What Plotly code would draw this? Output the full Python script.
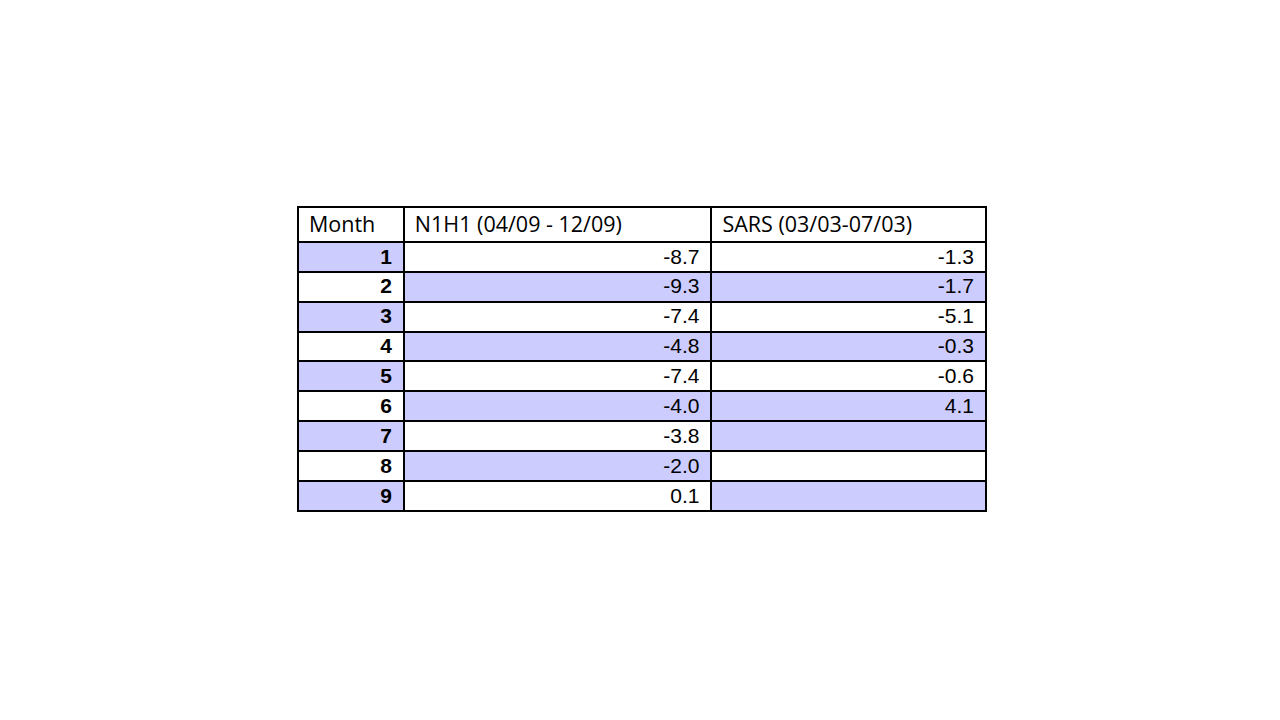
import plotly.graph_objects as go

header = ["Month", "N1H1 (04/09 - 12/09)", "SARS (03/03-07/03)"]
months = [1, 2, 3, 4, 5, 6, 7, 8, 9]
n1h1 = [-8.7, -9.3, -7.4, -4.8, -7.4, -4.0, -3.8, -2.0, 0.1]
sars = [-1.3, -1.7, -5.1, -0.3, -0.6, 4.1, None, None, None]

# shading of the sheet, 1 = purple, 0 = white
shade_month = [1, 0, 1, 0, 1, 0, 1, 0, 1]
shade_n1h1 = [0, 1, 0, 1, 0, 1, 0, 1, 0]
shade_sars = [0, 1, 0, 1, 0, 1, 1, 0, 1]

purple = "#CCCCFF"
col_w = [106, 308, 275]
head_h = 35
row_h = 30

x_edges = [0]
for w in col_w:
    x_edges.append(x_edges[-1] + w)
y_edges = [0, head_h]
for m in months:
    y_edges.append(y_edges[-1] + row_h)

z = [[0, 0, 0]]
for i in range(len(months)):
    z.append([shade_month[i], shade_n1h1[i], shade_sars[i]])

fig = go.Figure()
fig.add_trace(go.Heatmap(
    x=x_edges, y=y_edges, z=z,
    colorscale=[[0, "white"], [1, purple]], zmin=0, zmax=1,
    showscale=False, xgap=2, ygap=2, hoverinfo="skip",
))

head_y = head_h / 2 + 2.5
row_y = [head_h + row_h * (i + 0.5) + 1.5 for i in range(len(months))]

# header text, left aligned
fig.add_trace(go.Scatter(
    x=[x + 11 for x in x_edges[:-1]], y=[head_y] * 3, text=header,
    mode="text", textposition="middle right", hoverinfo="skip",
    textfont=dict(family="Open Sans", size=21.5, color="black"),
))

cols = [
    ["<b>%d</b>" % m for m in months],
    ["%.1f" % v for v in n1h1],
    ["" if v is None else "%.1f" % v for v in sars],
]
for j, txt in enumerate(cols):
    fig.add_trace(go.Scatter(
        x=[x_edges[j + 1] - 12] * len(txt), y=row_y, text=txt,
        mode="text", textposition="middle left", hoverinfo="skip",
        textfont=dict(family="Liberation Sans", size=21, color="black"),
    ))

ax = dict(showgrid=False, zeroline=False, showticklabels=False, ticks="",
          showline=True, mirror=True, linecolor="black", linewidth=1)
fig.update_xaxes(range=[0, x_edges[-1]], **ax)
fig.update_yaxes(range=[y_edges[-1], 0], **ax)

# page body adds 8px, so the plot area is shifted back by that
fig.update_layout(
    width=1280, height=720,
    margin=dict(l=290, r=302, t=199, b=217),
    plot_bgcolor="black", paper_bgcolor="white",
    showlegend=False,
)

fig.write_html("out.html", config={"displayModeBar": False})
